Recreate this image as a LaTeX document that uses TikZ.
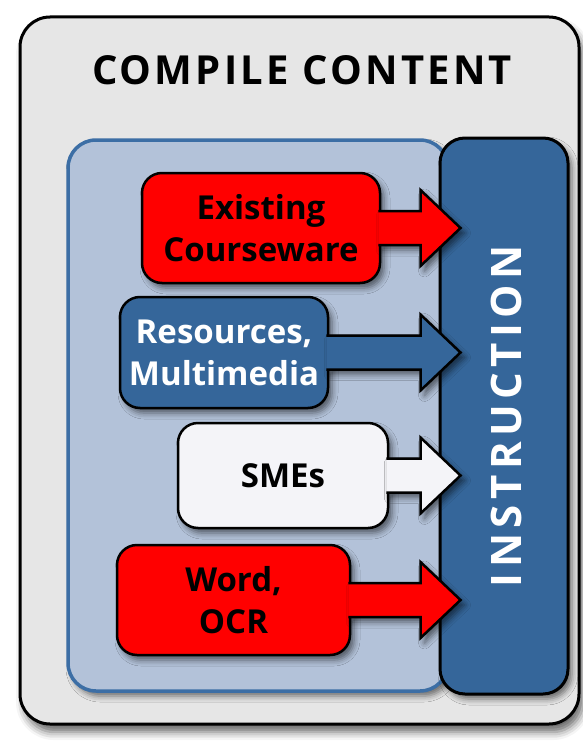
\documentclass[tikz,border=0pt]{standalone}
\usepackage{fontspec}
\setmainfont{Open Sans}
\newfontfamily\spacedfont{Open Sans}[LetterSpace=8]
\newfontfamily\widespacedfont{Open Sans}[LetterSpace=13]
\usetikzlibrary{calc,shadows.blur}
\definecolor{outerbg}{HTML}{E6E6E6}
\definecolor{panelbg}{HTML}{B3C2D9}
\definecolor{panelline}{HTML}{3C6EA5}
\definecolor{instrblue}{HTML}{35669A}
\definecolor{boxred}{HTML}{FF0000}
\definecolor{boxwhite}{HTML}{F4F4F8}
\newcommand\itemarrow[2]{%
  \path (#1.east) ++(-3,-17) coordinate (#1-s1) ++(0,34) coordinate (#1-s2)
        (#1.east) ++(0,-38) coordinate (#1-h1) ++(0,76) coordinate (#1-h2);
  \fill[#2, sh] (#1-s1) -- (#1-s1 -| hx) -- (#1-h1 -| hx) -- (#1.east -| tx)
        -- (#1-h2 -| hx) -- (#1-s2 -| hx) -- (#1-s2) -- cycle;
  \draw[line width=2.5pt, line join=miter] (#1-s1) -- (#1-s1 -| hx) -- (#1-h1 -| hx) -- (#1.east -| tx)
        -- (#1-h2 -| hx) -- (#1-s2 -| hx) -- (#1-s2);
}
\begin{document}
\begin{tikzpicture}[x=1pt,y=-1pt,
  sh/.style={blur shadow={shadow xshift=4pt, shadow yshift=-5pt, shadow blur radius=6pt, shadow opacity=55}},
  itembox/.style={rounded corners=20pt, draw=black, line width=2.5pt, inner sep=0pt,
     align=center, font=\fontsize{33}{42}\selectfont\bfseries, sh},
  titletext/.style={font=\fontsize{40}{44}\selectfont\bfseries\spacedfont}]
\useasboundingbox (0,0) rectangle (583,741);
% outer frame
\node[draw=black, line width=3pt, fill=outerbg, rounded corners=30pt,
  minimum width=559pt, minimum height=707pt,
  blur shadow={shadow xshift=4pt, shadow yshift=-8pt, shadow blur radius=8pt, shadow opacity=60}]
  (frame) at (299.5,370.5) {};
\node[titletext] (title) at (302,70) {COMPILE CONTENT};
% panel
\node[draw=panelline, line width=3.5pt, fill=panelbg, rounded corners=28pt,
  minimum width=380pt, minimum height=551pt, sh] (panel) at (258,415.5) {};
% instruction bar
\node[draw=black, line width=3pt, fill=instrblue, rounded corners=25pt,
  minimum width=128pt, minimum height=556pt, sh] (instr) at (504,416) {};
\node[rotate=90, text=white, font=\fontsize{42}{46}\selectfont\bfseries\widespacedfont]
  (instrtext) at ($(instr.center)+(2,0)$) {INSTRUCTION};
\coordinate (hx) at ($(instr.west)+(-18,0)$);
\coordinate (tx) at ($(instr.west)+(22,0)$);
% items
\node[itembox, fill=boxred, minimum width=238pt, minimum height=110pt] (exist) at (261,228)
  {Existing\\Courseware};
\itemarrow{exist}{boxred}
\node[itembox, fill=instrblue, text=white, minimum width=208pt, minimum height=111pt] (res) at (224,352.5)
  {Resources,\\Multimedia};
\itemarrow{res}{instrblue}
\node[itembox, fill=boxwhite, minimum width=210pt, minimum height=105pt] (sme) at (283,475.5)
  {SMEs};
\itemarrow{sme}{boxwhite}
\node[itembox, fill=boxred, minimum width=233pt, minimum height=110pt] (word) at (233.5,600)
  {Word,\\OCR};
\itemarrow{word}{boxred}
\end{tikzpicture}
\end{document}
